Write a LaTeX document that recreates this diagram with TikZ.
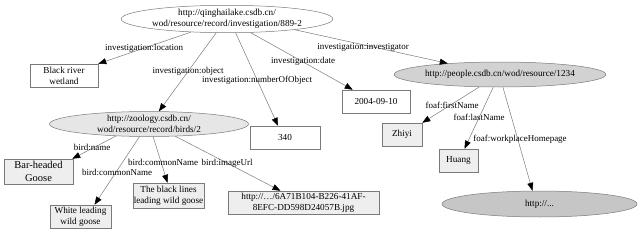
\documentclass[tikz,border=0pt]{standalone}
\usepackage{fontspec}
\setmainfont{Liberation Serif}
\usetikzlibrary{shapes.geometric,arrows.meta}
\definecolor{birdfill}{HTML}{E6E6E6}
\definecolor{peoplefill}{HTML}{D2D2D2}
\definecolor{httpfill}{HTML}{C6C6C6}
\definecolor{boxfill}{HTML}{EEEEEE}
\definecolor{edgecol}{HTML}{7A7A7A}
\begin{document}
\begin{tikzpicture}[x=1pt,y=-1pt,
  every node/.style={font=\fontsize{9.2}{11}\selectfont, inner sep=0pt, align=center},
  ell/.style={ellipse, draw=edgecol, line width=0.5pt},
  lit/.style={rectangle, draw=edgecol, line width=0.5pt, fill=white},
  litg/.style={rectangle, draw=edgecol, line width=0.5pt, fill=boxfill},
  lbl/.style={font=\fontsize{9}{11}\selectfont},
  arr/.style={draw=edgecol, line width=0.5pt, -{Triangle[length=8pt,width=6pt,color=black]}}
]
\useasboundingbox (0,0) rectangle (640,233);
% nodes
\node[ell, fill=white, minimum width=196pt, minimum height=27pt] (top) at (227,19) {http://qinghailake.csdb.cn/\\wod/resource/record/investigation/889-2};
\node[lit, minimum width=68pt, minimum height=23pt] (black) at (64,75.5) {Black river\\wetland};
\node[ell, fill=birdfill, minimum width=199pt, minimum height=25pt] (bird) at (149,124) {http://zoology.csdb.cn/\\wod/resource/record/birds/2};
\node[ell, fill=peoplefill, minimum width=195pt, minimum height=25pt] (people) at (500,74.5) {http://people.csdb.cn/wod/resource/1234};
\node[lit, minimum width=68pt, minimum height=23pt] (date) at (376,101.5) {2004-09-10};
\node[lit, minimum width=70pt, minimum height=23pt] (n340) at (285,137.5) {340};
\node[litg, minimum width=69pt, minimum height=25pt, font=\fontsize{10.5}{12.5}\selectfont] (bar) at (38.5,171.5) {Bar-headed\\Goose};
\node[litg, minimum width=61pt, minimum height=23pt] (white) at (80.5,216.5) {White leading\\wild goose};
\node[litg, minimum width=71pt, minimum height=25pt] (blines) at (168.5,195.5) {The black lines\\leading wild goose};
\node[litg, minimum width=151pt, minimum height=23pt] (url) at (303.5,202.5) {http://\dots/6A71B104-B226-41AF-\\8EFC-DD598D24057B.jpg};
\node[litg, minimum width=40pt, minimum height=23pt] (zhiyi) at (402,134.5) {Zhiyi};
\node[litg, minimum width=39pt, minimum height=23pt] (huang) at (458.5,160.5) {Huang};
\node[ell, fill=httpfill, minimum width=195pt, minimum height=26pt] (http) at (539.5,204) {http://...};
% edges
\draw[arr] (top.200) -- (black.north east);
\draw[arr] (top.232) -- (bird.52);
\draw[arr] (top.302) -- ([xshift=-7pt]n340.north);
\draw[arr] (top.330) -- ([xshift=11pt]date.north west);
\draw[arr] (top.351) -- (people.168);
\draw[arr] (people.211) -- (zhiyi.north east);
\draw[arr] (people.242) -- ([xshift=6pt]huang.north);
\draw[arr] (people.283) -- (http.118);
\draw[arr] (bird.200) -- ([xshift=-1pt]bar.north east);
\draw[arr] (bird.233) -- ([xshift=14pt]white.north);
\draw[arr] (bird.288) -- ([xshift=-1pt]blines.north);
\draw[arr] (bird.335) -- ([xshift=-23pt]url.north);
% edge labels
\node[lbl] (l1) at (144,48) {investigation:location};
\node[lbl] (l2) at (188,71) {investigation:object};
\node[lbl] (l3) at (257,80) {investigation:numberOfObject};
\node[lbl] (l4) at (303,61) {investigation:date};
\node[lbl] (l5) at (363,47) {investigation:investigator};
\node[lbl] (l6) at (452,105) {foaf:firstName};
\node[lbl] (l7) at (479,117) {foaf:lastName};
\node[lbl] (l8) at (520,139) {foaf:workplaceHomepage};
\node[lbl] (l9) at (92,147) {bird:name};
\node[lbl] (l10) at (117,172) {bird:commonName};
\node[lbl] (l11) at (163,162) {bird:commonName};
\node[lbl] (l12) at (227,163) {bird:imageUrl};
\end{tikzpicture}
\end{document}
